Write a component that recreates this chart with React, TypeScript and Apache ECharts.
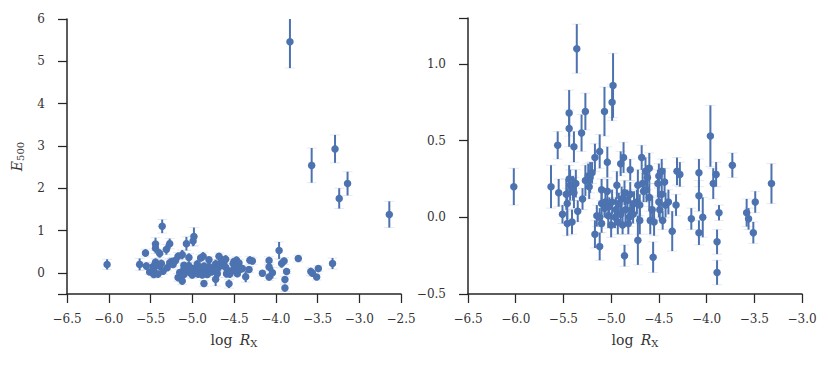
import React, { useEffect, useRef } from "react";
import * as echarts from "echarts";

const logRx: number[] = [
  -6.02, -5.63, -5.56, -5.55, -5.51, -5.47, -5.46, -5.46, -5.44, -5.44,
  -5.43, -5.44, -5.41, -5.39, -5.39, -5.40, -5.37, -5.36, -5.35, -5.31,
  -5.30, -5.27, -5.27, -5.24, -5.22, -5.23, -5.20, -5.17, -5.17, -5.15,
  -5.12, -5.12, -5.12, -5.10, -5.10, -5.10, -5.07, -5.07, -5.06, -5.04,
  -5.04, -5.03, -5.02, -4.99, -4.98, -5.00, -4.99, -4.96, -4.95, -4.94,
  -4.93, -4.92, -4.90, -4.90, -4.89, -4.88, -4.87, -4.86, -4.86, -4.85,
  -4.83, -4.82, -4.81, -4.80, -4.80, -4.79, -4.77, -4.76, -4.72, -4.72,
  -4.73, -4.70, -4.70, -4.68, -4.67, -4.66, -4.64, -4.63, -4.62, -4.60,
  -4.60, -4.59, -4.56, -4.55, -4.57, -4.50, -4.50, -4.51, -4.49, -4.47,
  -4.46, -4.47, -4.44, -4.43, -4.40, -4.36, -4.32, -4.31, -4.28, -4.16,
  -4.08, -4.08, -4.08, -4.04, -3.96, -3.93, -3.90, -3.89, -3.89, -3.87,
  -3.73, -3.58, -3.56, -3.51, -3.49, -3.32,
  -3.83, -3.29, -3.57, -3.14, -3.24, -2.64,
];

const e500: number[] = [
  0.20, 0.20, 0.47, 0.16, 0.02, 0.15, -0.04, 0.09, 0.68, 0.58,
  0.21, 0.25, -0.03, 0.46, 0.16, 0.19, 0.22, 1.10, 0.04, 0.55,
  0.12, 0.69, 0.24, 0.27, 0.26, 0.20, 0.29, 0.39, -0.11, 0.01,
  0.43, -0.19, 0.00, 0.18, 0.09, -0.04, 0.69, 0.06, 0.10, 0.36,
  0.17, 0.01, 0.07, 0.75, 0.86, -0.05, 0.10, 0.00, 0.05, 0.21,
  -0.03, 0.09, 0.35, 0.02, 0.12, -0.05, 0.39, 0.16, -0.25, 0.05,
  0.11, -0.04, 0.00, 0.31, 0.15, 0.05, 0.02, 0.09, 0.21, -0.15,
  0.10, -0.02, 0.08, 0.39, 0.22, 0.17, 0.30, 0.18, 0.26, 0.32,
  0.13, -0.02, -0.26, -0.03, 0.05, 0.10, 0.27, 0.22, 0.05, 0.15,
  -0.02, 0.30, 0.23, 0.08, 0.10, -0.09, 0.08, 0.30, 0.28, -0.01,
  0.29, 0.14, -0.10, 0.00, 0.53, 0.22, 0.28, -0.16, -0.36, 0.03,
  0.34, 0.03, -0.01, -0.10, 0.10, 0.22,
  5.46, 2.93, 2.54, 2.11, 1.76, 1.38,
];

const e500Err: number[] = [
  0.12, 0.14, 0.09, 0.09, 0.06, 0.10, 0.08, 0.10, 0.15, 0.12,
  0.10, 0.09, 0.08, 0.10, 0.10, 0.08, 0.09, 0.16, 0.07, 0.12,
  0.07, 0.12, 0.10, 0.08, 0.10, 0.08, 0.07, 0.09, 0.09, 0.07,
  0.11, 0.09, 0.06, 0.07, 0.07, 0.06, 0.16, 0.06, 0.07, 0.10,
  0.08, 0.08, 0.06, 0.12, 0.21, 0.08, 0.08, 0.07, 0.08, 0.09,
  0.08, 0.07, 0.08, 0.07, 0.08, 0.06, 0.10, 0.08, 0.07, 0.09,
  0.07, 0.07, 0.06, 0.07, 0.08, 0.06, 0.06, 0.08, 0.10, 0.16,
  0.08, 0.09, 0.07, 0.08, 0.07, 0.07, 0.09, 0.08, 0.08, 0.10,
  0.09, 0.09, 0.10, 0.09, 0.09, 0.10, 0.08, 0.09, 0.07, 0.08,
  0.06, 0.08, 0.09, 0.08, 0.08, 0.13, 0.07, 0.09, 0.08, 0.07,
  0.09, 0.10, 0.08, 0.13, 0.20, 0.10, 0.08, 0.08, 0.08, 0.05,
  0.08, 0.09, 0.07, 0.07, 0.07, 0.13,
  0.62, 0.33, 0.41, 0.28, 0.24, 0.31,
];

const BLUE = "#4C72B0";
const INK = "#262626";
const FONT = "'DejaVu Serif', 'Liberation Serif', serif";

const isStep = (v: number, step: number) => Math.abs(v / step - Math.round(v / step)) < 1e-6;
const fmt1 = (v: number) => (isStep(v, 0.5) ? v.toFixed(1).replace("-", "\u2212") : "");
const fmt0 = (v: number) => (isStep(v, 1) ? String(Math.round(v)).replace("-", "\u2212") : "");

export default function App() {
  const ref = useRef<HTMLDivElement>(null);

  useEffect(() => {
    document.body.style.margin = "0";
    if (!ref.current) return;
    const chart = echarts.init(ref.current, null, { renderer: "svg" });

    const points = logRx.map((x, i) => [x, e500[i], e500Err[i]]);

    const errRender = (params: any, api: any) => {
      const x = api.value(0);
      const y = api.value(1);
      const e = api.value(2);
      const top = api.coord([x, y + e]);
      const bot = api.coord([x, y - e]);
      const cap = 5;
      const capStyle = { stroke: "rgba(76,114,176,0.15)", lineWidth: 1 };
      return {
        type: "group",
        children: [
          { type: "line", shape: { x1: top[0], y1: top[1], x2: bot[0], y2: bot[1] }, style: { stroke: BLUE, lineWidth: 2 } },
          { type: "line", shape: { x1: top[0] - cap, y1: top[1], x2: top[0] + cap, y2: top[1] }, style: capStyle },
          { type: "line", shape: { x1: bot[0] - cap, y1: bot[1], x2: bot[0] + cap, y2: bot[1] }, style: capStyle },
        ],
      };
    };

    const axisLine = { show: true, onZero: false, lineStyle: { color: INK, width: 1.5 } };
    const axisTick = { show: true, inside: false, length: 9, lineStyle: { color: INK, width: 1.25 } };
    const labelBase = { color: "#333", fontFamily: FONT, fontSize: 12, showMinLabel: true, showMaxLabel: true };

    const xName = "{n|log }{i|R}{s|X}";
    const xNameStyle = {
      color: "#333",
      fontFamily: FONT,
      rich: {
        n: { fontFamily: FONT, fontSize: 14, color: "#333", padding: [0, 3, 0, 0] },
        i: { fontFamily: FONT, fontSize: 14, fontStyle: "italic", color: "#333" },
        s: { fontFamily: FONT, fontSize: 10, color: "#333", padding: [6, 0, 0, 0] },
      },
    };

    const makeX = (gridIndex: number, max: number) => ({
      type: "value",
      gridIndex,
      min: -6.5,
      max,
      interval: 0.5,
      splitLine: { show: false },
      axisLine,
      axisTick,
      axisLabel: { ...labelBase, margin: 19, formatter: fmt1 },
      name: xName,
      nameLocation: "middle",
      nameGap: 38,
      nameTextStyle: xNameStyle,
    });

    chart.setOption({
      animation: false,
      backgroundColor: "#fff",
      grid: [
        { left: 67, right: 429, top: 19, bottom: 73 },
        { left: 468, right: 28, top: 18, bottom: 73 },
      ],
      xAxis: [makeX(0, -2.5), makeX(1, -3.0)],
      yAxis: [
        {
          type: "value",
          gridIndex: 0,
          min: -0.5,
          max: 6,
          splitNumber: 7,
          splitLine: { show: false },
          axisLine,
          axisTick,
          axisLabel: { ...labelBase, margin: 22, formatter: fmt0 },
          name: "{i|E}{s|500}",
          nameLocation: "middle",
          nameGap: 42,
          nameRotate: 90,
          nameTextStyle: {
            color: "#333",
            fontFamily: FONT,
            rich: {
              i: { fontFamily: FONT, fontSize: 14, fontStyle: "italic", color: "#333" },
              s: { fontFamily: FONT, fontSize: 10, color: "#333", padding: [6, 0, 0, 0] },
            },
          },
        },
        {
          type: "value",
          gridIndex: 1,
          min: -0.5,
          max: 1.3,
          interval: 0.5,
          splitLine: { show: false },
          axisLine,
          axisTick,
          axisLabel: { ...labelBase, margin: 22, formatter: fmt1 },
        },
      ],
      series: [
        { type: "custom", xAxisIndex: 0, yAxisIndex: 0, renderItem: errRender, data: points, encode: { x: 0, y: 1 }, clip: true, z: 2 },
        { type: "scatter", xAxisIndex: 0, yAxisIndex: 0, data: points, symbolSize: 7.5, itemStyle: { color: BLUE, opacity: 1 }, clip: true, z: 3 },
        { type: "custom", xAxisIndex: 1, yAxisIndex: 1, renderItem: errRender, data: points, encode: { x: 0, y: 1 }, clip: true, z: 2 },
        { type: "scatter", xAxisIndex: 1, yAxisIndex: 1, data: points, symbolSize: 7.5, itemStyle: { color: BLUE, opacity: 1 }, clip: true, z: 3 },
      ],
    });

    return () => chart.dispose();
  }, []);

  return <div ref={ref} style={{ width: 830, height: 367 }} />;
}
